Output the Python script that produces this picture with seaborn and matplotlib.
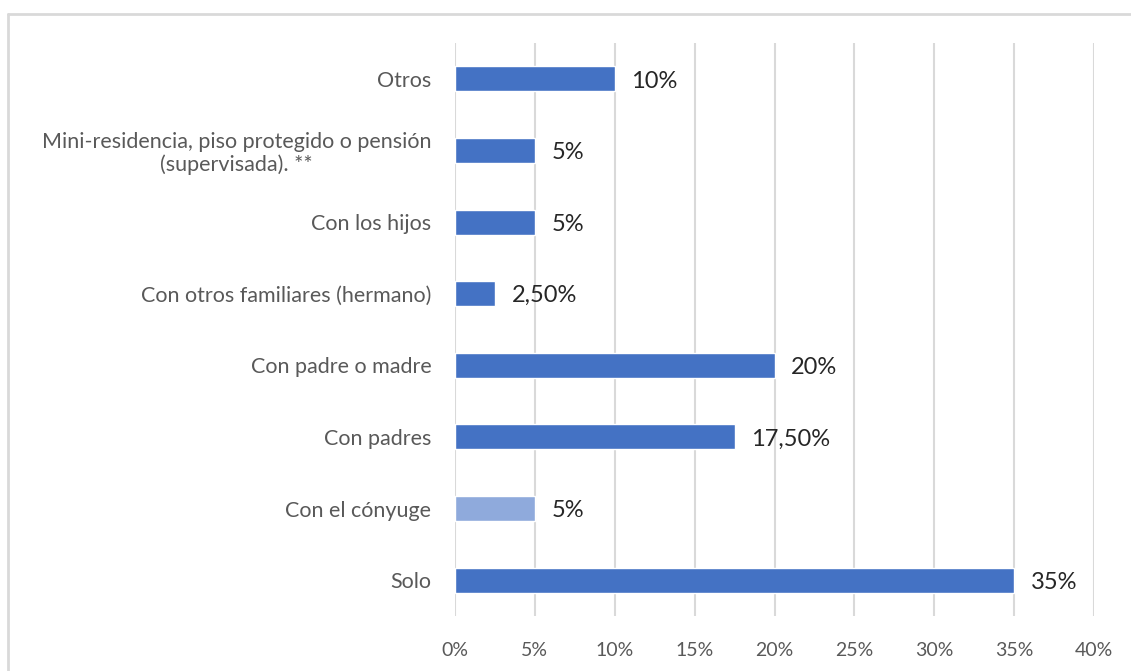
import matplotlib
matplotlib.use("Agg")
import matplotlib.pyplot as plt
from matplotlib.lines import Line2D
import seaborn as sns
import pandas as pd

categories = [
    "Otros",
    "Mini-residencia, piso protegido o pensión\n(supervisada). **",
    "Con los hijos",
    "Con otros familiares (hermano)",
    "Con padre o madre",
    "Con padres",
    "Con el cónyuge",
    "Solo",
]
values = [10, 5, 5, 2.5, 20, 17.5, 5, 35]
value_labels = ["10%", "5%", "5%", "2,50%", "20%", "17,50%", "5%", "35%"]
x_ticks = [0, 5, 10, 15, 20, 25, 30, 35, 40]
x_tick_labels = ["0%", "5%", "10%", "15%", "20%", "25%", "30%", "35%", "40%"]

bar_colors = ["#4472C4"] * 6 + ["#8FAADC", "#4472C4"]

df = pd.DataFrame({"cat": categories, "val": values})

sns.set_style("white")
plt.rcParams["font.family"] = ["Lato", "DejaVu Sans"]

fig = plt.figure(figsize=(11.31, 6.71), dpi=100)
ax = fig.add_axes([0.4023, 0.082, 0.5650, 0.8537])

sns.barplot(data=df, x="val", y="cat", hue="cat", palette=bar_colors,
            order=categories, hue_order=categories, legend=False,
            width=0.35, orient="h", ax=ax, saturation=1)

ax.set_xlim(0, 40)
ax.set_ylim(7.5, -0.5)
ax.set_xticks(x_ticks)
ax.set_xticklabels(x_tick_labels, fontsize=14, color="#595959")
ax.tick_params(axis="y", labelsize=15.5, labelcolor="#595959", length=0, pad=17)
ax.tick_params(axis="x", length=0, pad=19)
for lbl in ax.get_yticklabels():
    lbl.set_horizontalalignment("right")
    lbl.set_multialignment("center")
    lbl.set_linespacing(1.15)
ax.set_xlabel("")
ax.set_ylabel("")
ax.xaxis.grid(True, color="#d9d9d9", linewidth=1.5)
ax.set_axisbelow(True)
for s in ax.spines.values():
    s.set_visible(False)

for patch, lab in zip(ax.patches, value_labels):
    w = patch.get_width()
    yc = patch.get_y() + patch.get_height() / 2
    ax.annotate(lab, (w, yc), xytext=(12, -1.5), textcoords="offset points",
                ha="left", va="center", fontsize=17, color="#262626")

# chart frame
fx = 8 / 1131
fy = 1 - 14 / 671
fig.add_artist(Line2D([fx, 1.0], [fy, fy], transform=fig.transFigure,
                      color="#d9d9d9", linewidth=2))
fig.add_artist(Line2D([fx, fx], [0.0, fy], transform=fig.transFigure,
                      color="#d9d9d9", linewidth=2))

fig.savefig("out.png", dpi=100, facecolor="white")
